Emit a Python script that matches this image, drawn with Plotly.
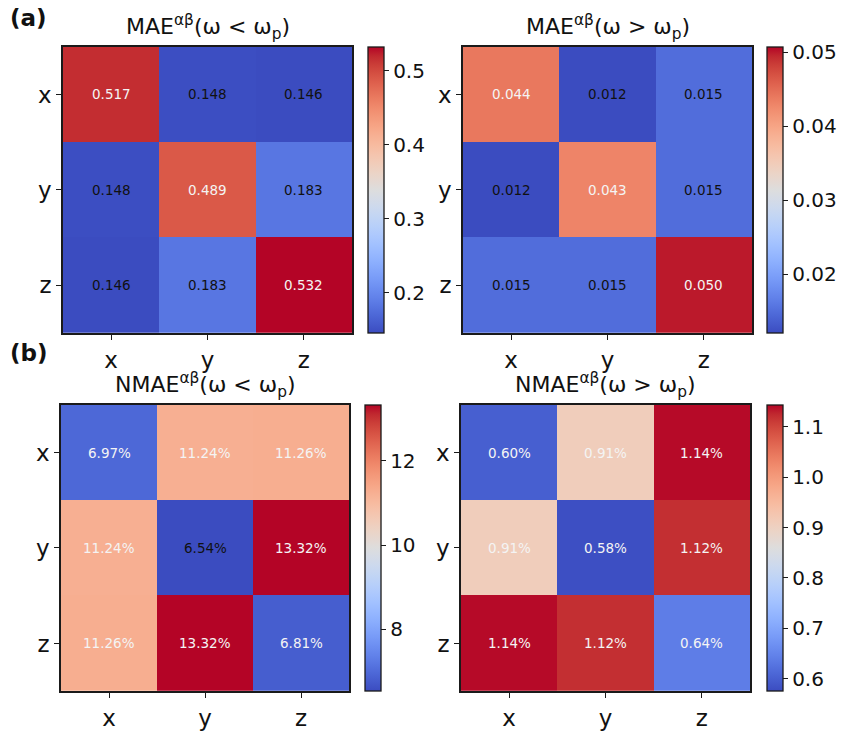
import plotly.graph_objects as go

# ---------------- data ----------------
labels = ["x", "y", "z"]

mae_below = [[0.517, 0.148, 0.146],
             [0.148, 0.489, 0.183],
             [0.146, 0.183, 0.532]]
mae_above = [[0.044, 0.012, 0.015],
             [0.012, 0.043, 0.015],
             [0.015, 0.015, 0.050]]
nmae_below = [[6.97, 11.24, 11.26],
              [11.24, 6.54, 13.32],
              [11.26, 13.32, 6.81]]
nmae_above = [[0.60, 0.91, 1.14],
              [0.91, 0.58, 1.12],
              [1.14, 1.12, 0.64]]

panel_titles = ["MAE<sup>αβ</sup>(ω &lt; ω<sub>p</sub>)",
                "MAE<sup>αβ</sup>(ω &gt; ω<sub>p</sub>)",
                "NMAE<sup>αβ</sup>(ω &lt; ω<sub>p</sub>)",
                "NMAE<sup>αβ</sup>(ω &gt; ω<sub>p</sub>)"]
text_formats = ["{:.3f}", "{:.3f}", "{:.2f}%", "{:.2f}%"]
color_ranges = [(0.146, 0.532), (0.0121, 0.0507), (6.54, 13.32), (0.576, 1.143)]
cbar_ticks = [[0.2, 0.3, 0.4, 0.5], [0.02, 0.03, 0.04, 0.05], [8, 10, 12],
              [0.6, 0.7, 0.8, 0.9, 1.0, 1.1]]
cbar_formats = [".1f", ".2f", "d", ".1f"]
# which annotations are drawn in white (1) vs black (0)
white_text = [[[1, 0, 0], [0, 1, 0], [0, 0, 1]],
              [[1, 0, 0], [0, 1, 0], [0, 0, 1]],
              [[1, 1, 1], [1, 0, 1], [1, 1, 1]],
              [[1, 1, 1], [1, 1, 1], [1, 1, 1]]]

# ---------------- style / layout ----------------
W, H = 843, 731
FONT = "DejaVu Sans"

coolwarm_tab = [
    (59, 76, 192), (68, 90, 204), (77, 104, 215), (87, 117, 225), (98, 130, 234),
    (108, 142, 241), (119, 154, 247), (130, 165, 251), (141, 176, 254), (152, 185, 255),
    (163, 194, 255), (174, 201, 253), (184, 208, 249), (194, 213, 244), (204, 217, 238),
    (213, 219, 230), (221, 221, 221), (229, 216, 209), (236, 211, 197), (241, 204, 185),
    (245, 196, 173), (247, 187, 160), (247, 177, 148), (247, 166, 135), (244, 154, 123),
    (241, 141, 111), (236, 127, 99), (229, 112, 88), (222, 96, 77), (213, 80, 66),
    (203, 62, 56), (192, 40, 47), (180, 4, 38)]
coolwarm = [[i / (len(coolwarm_tab) - 1), "rgb(%d,%d,%d)" % c] for i, c in enumerate(coolwarm_tab)]

# pixel boxes: (left, right, top, bottom) of heatmaps, and colorbar left edge
boxes = [(63, 352, 47, 335), (463, 752, 47, 335), (61, 349, 407, 695), (461, 750, 407, 695)]
cbar_left = [368, 767, 365, 767]
CBAR_W = 16

datasets = [mae_below, mae_above, nmae_below, nmae_above]

fig = go.Figure()
layout_axes = {}
for k, (z, box) in enumerate(zip(datasets, boxes)):
    l, r, t, b = box
    xa = "x" if k == 0 else "x%d" % (k + 1)
    ya = "y" if k == 0 else "y%d" % (k + 1)
    zmin, zmax = color_ranges[k]
    fig.add_trace(go.Heatmap(
        z=z, x=labels, y=labels, xaxis=xa, yaxis=ya,
        colorscale=coolwarm, zmin=zmin, zmax=zmax,
        colorbar=dict(
            x=cbar_left[k] / W, xanchor="left", xpad=0, ypad=0,
            y=1 - (t + b) / 2 / H, yanchor="middle",
            len=(b - t) / H, lenmode="fraction",
            thickness=CBAR_W, thicknessmode="pixels",
            outlinewidth=1.3, outlinecolor="#1a1a1a",
            ticks="outside", ticklen=5, tickwidth=1.2, tickcolor="#1a1a1a",
            tickvals=cbar_ticks[k], tickformat=cbar_formats[k],
            tickfont=dict(family=FONT, size=20, color="#111"),
        ),
        hoverinfo="skip",
    ))
    for i, row in enumerate(z):
        for j, v in enumerate(row):
            fig.add_annotation(
                x=labels[j], y=labels[i], xref=xa, yref=ya, showarrow=False,
                text=text_formats[k].format(v),
                font=dict(family=FONT, size=13.5,
                          color="#f4f4f4" if white_text[k][i][j] else "#111111"))
    axcommon = dict(
        type="category", showline=True, mirror=True, linecolor="#1a1a1a", linewidth=1.5,
        ticks="outside", ticklen=5, tickwidth=1.2, tickcolor="#1a1a1a",
        showgrid=False, zeroline=False,
        tickfont=dict(family=FONT, size=23, color="#111"),
    )
    layout_axes["xaxis" if k == 0 else "xaxis%d" % (k + 1)] = dict(
        axcommon, domain=[l / W, r / W], anchor=ya, range=[-0.5, 2.5])
    layout_axes["yaxis" if k == 0 else "yaxis%d" % (k + 1)] = dict(
        axcommon, domain=[1 - b / H, 1 - t / H], anchor=xa, range=[2.5, -0.5])
    fig.add_annotation(
        x=(l + r) / 2 / W, y=1 - (t - 2) / H, xref="paper", yref="paper",
        xanchor="center", yanchor="bottom", showarrow=False,
        text=panel_titles[k], font=dict(family=FONT, size=22, color="#111"))

fig.add_annotation(x=8 / W, y=1 - 3 / H, xref="paper", yref="paper", xanchor="left",
                   yanchor="top", showarrow=False, text="<b>(a)</b>",
                   font=dict(family=FONT, size=23, color="#111"))
fig.add_annotation(x=8 / W, y=1 - 340 / H, xref="paper", yref="paper", xanchor="left",
                   yanchor="top", showarrow=False, text="<b>(b)</b>",
                   font=dict(family=FONT, size=23, color="#111"))

fig.update_layout(
    width=W, height=H, margin=dict(l=0, r=0, t=0, b=0),
    paper_bgcolor="white", plot_bgcolor="white", showlegend=False,
    **layout_axes,
)
fig.write_html("out.html")
